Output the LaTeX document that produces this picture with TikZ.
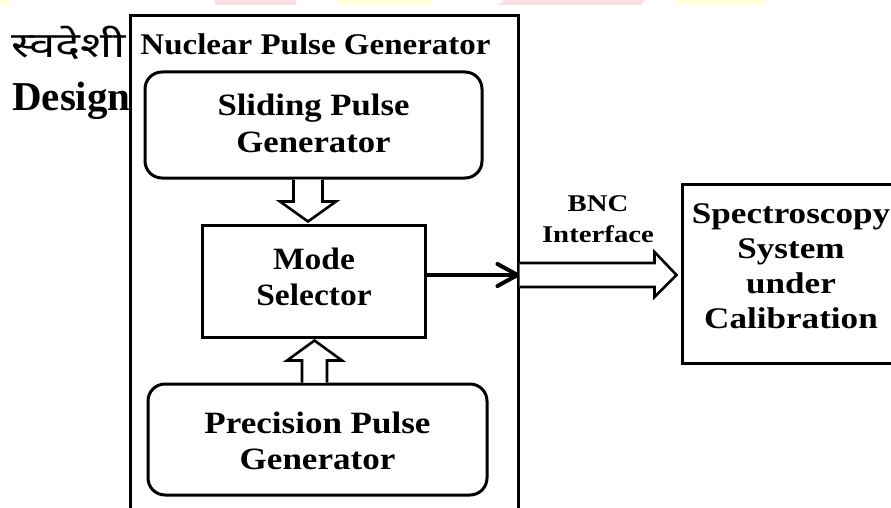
\documentclass[tikz,border=0pt]{standalone}
\usepackage{fontspec}
\setmainfont{Liberation Serif}
\newfontfamily\devfont[Script=Devanagari]{Noto Sans}
\usetikzlibrary{arrows.meta,calc}
\definecolor{wmpink}{HTML}{FFDDE5}
\definecolor{wmyellow}{HTML}{FFFFDA}
\newcommand\hstr[2][1.1]{\scalebox{#1}[1]{#2}}
\begin{document}
\begin{tikzpicture}[x=1pt,y=1pt,
  box/.style={draw, line width=3pt, inner sep=0pt},
  rbox/.style={box, rounded corners=17pt},
  txt/.style={font=\bfseries\fontsize{31}{36.5}\selectfont, align=center, inner sep=0pt},
  smalltxt/.style={font=\bfseries\fontsize{24}{31}\selectfont, align=center, inner sep=0pt},
  spectxt/.style={font=\bfseries\fontsize{30}{35}\selectfont, align=center, inner sep=0pt},
  hollow/.style={draw, fill=white, line width=2.6pt, line join=miter},
  thickarrow/.style={line width=4pt, -{Straight Barb[length=20pt,width=22pt,round]}}]
\useasboundingbox (0,0) rectangle (891,-508);
\clip (0,0) rectangle (891,-508);
% faint watermark fragments at the top edge
\fill[wmyellow] (0,0) rectangle (10,-5);
\fill[wmpink] (215,0) rectangle (296,-5);
\fill[wmyellow] (338,0) rectangle (432,-5);
\fill[wmpink] (505,0) -- (645,0) -- (640,-5) -- (498,-5) -- cycle;
\fill[wmyellow] (675,0) -- (765,0) -- (767,-5) -- (677,-5) -- cycle;
% left labels
\node[anchor=base west, inner sep=0pt, font=\devfont\fontsize{35}{40}\selectfont] (swd) at (11,-58) {\hstr[1.35]{स्वदेशी}};
\node[anchor=base west, inner sep=0pt, font=\bfseries\fontsize{41}{48}\selectfont] (dsg) at (12,-111) {Design};
% outer box
\node[box, fill=none, minimum width=388pt, minimum height=514pt] (npg) at (324,-273) {};
\node[txt, font=\bfseries\fontsize{30}{36}\selectfont, anchor=base] (npgT) at (315.5,-55) {\hstr[1.1]{Nuclear Pulse Generator}};
% inner boxes
\node[rbox, minimum width=337pt, minimum height=106pt] (slide) at (313.5,-125) {};
\node[txt] (slideT) at (313.5,-123.3) {\hstr[1.12]{Sliding Pulse}\\\hstr[1.12]{Generator}};
\node[box, minimum width=223pt, minimum height=112pt] (mode) at (313.5,-281) {};
\node[txt] (modeT) at (314,-276.8) {\hstr[1.08]{Mode}\\\hstr[1.08]{Selector}};
\node[rbox, minimum width=339pt, minimum height=111pt] (prec) at (317.5,-439.5) {};
\node[txt] (precT) at (317.5,-440.8) {\hstr[1.13]{Precision Pulse}\\\hstr[1.13]{Generator}};
\node[box, minimum width=218pt, minimum height=179pt] (spec) at (791,-273.5) {};
\node[spectxt] (specT) at (791,-266.6) {\hstr[1.17]{Spectroscopy}\\\hstr[1.17]{System}\\\hstr[1.17]{under}\\\hstr[1.17]{Calibration}};
\node[smalltxt] (bnc) at (598,-219.3) {\hstr[1.2]{BNC}\\\hstr[1.2]{Interface}};
% hollow arrow: sliding -> mode
\draw[hollow] ([xshift=-20pt]slide.south) -- ($(slide.south)+(-20,-22)$) -- ($(slide.south)+(-33.5,-22)$)
  -- ($(mode.north)+(-5.5,2)$) -- ($(slide.south)+(22.5,-22)$) -- ($(slide.south)+(9,-22)$) -- ([xshift=9pt]slide.south);
% hollow arrow: precision -> mode
\draw[hollow] ([xshift=-15.5pt]prec.north) -- ($(prec.north)+(-15.5,22)$) -- ($(prec.north)+(-30.5,22)$)
  -- ($(mode.south)+(1,-2)$) -- ($(prec.north)+(24.5,22)$) -- ($(prec.north)+(9.5,22)$) -- ([xshift=9.5pt]prec.north);
% thick arrow: mode -> outer box edge
\draw[thickarrow] ([yshift=6pt]mode.east) -- ([yshift=-2pt]npg.east);
% hollow arrow: outer box -> spectroscopy system
\draw[hollow] ([yshift=10pt]npg.east) -- ($(npg.east)+(135,10)$) -- ($(npg.east)+(135,21)$)
  -- ($(spec.west)+(-4,-1.5)$) -- ($(npg.east)+(135,-24)$) -- ($(npg.east)+(135,-14)$) -- ([yshift=-14pt]npg.east);
\end{tikzpicture}
\end{document}
